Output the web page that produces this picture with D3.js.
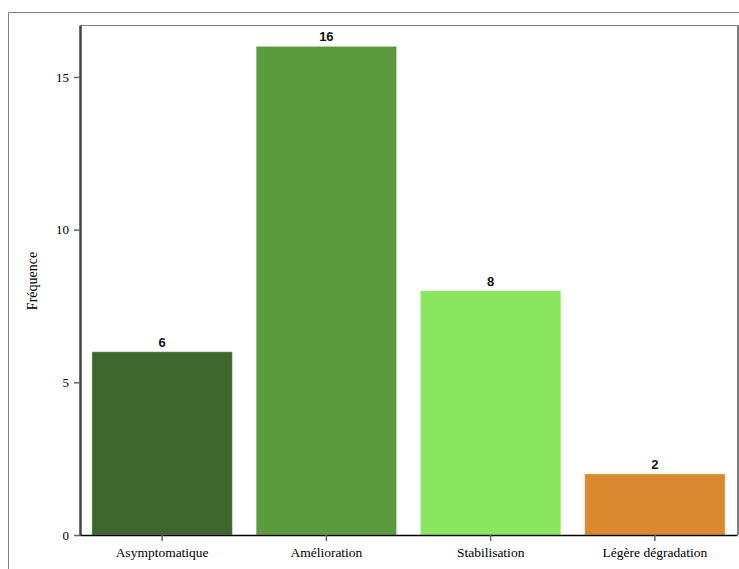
<!DOCTYPE html>
<html>
<head>
<meta charset="utf-8">
<script src="https://cdn.jsdelivr.net/npm/d3@7"></script>
<style>
  html, body { margin: 0; padding: 0; background: #fff; }
  svg { display: block; }
</style>
</head>
<body>
<svg id="chart" width="739" height="569"></svg>
<script>
const categories = ["Asymptomatique", "Amélioration", "Stabilisation", "Légère dégradation"];
const values = [6, 16, 8, 2];
const colors = ["#3d672d", "#5b9b3e", "#8ae65f", "#d98a2e"];
const yTicks = [0, 5, 10, 15];
const yTitle = "Fréquence";

const svg = d3.select("#chart");
const mLeft = 80, mRight = 737, mTop = 25, mBottom = 535;

// outer frame
svg.append("path")
  .attr("d", `M8.5,569 L8.5,12.5 L739,12.5`)
  .attr("fill", "none").attr("stroke", "#808080").attr("stroke-width", 1);

const x = d3.scaleBand().domain(categories).range([mLeft, mRight]).paddingInner(0.145).paddingOuter(0.0725);
const y = d3.scaleLinear().domain([0, 16.7]).range([mBottom, mTop]);

// plot frame top/right
svg.append("line").attr("x1", mLeft).attr("x2", mRight).attr("y1", mTop + 0.5).attr("y2", mTop + 0.5)
  .attr("stroke", "#808080").attr("stroke-width", 1);
svg.append("line").attr("x1", mRight + 1).attr("x2", mRight + 1).attr("y1", mTop).attr("y2", mBottom)
  .attr("stroke", "#808080").attr("stroke-width", 2);

// bars
svg.append("g").selectAll("rect").data(values).join("rect")
  .attr("x", (d, i) => x(categories[i]))
  .attr("y", d => y(d))
  .attr("width", x.bandwidth())
  .attr("height", d => y(0) - y(d))
  .attr("fill", (d, i) => colors[i])
  .attr("stroke", "rgba(255,255,255,0.35)")
  .attr("stroke-width", 1);

// value labels
svg.append("g").selectAll("text").data(values).join("text")
  .attr("x", (d, i) => x(categories[i]) + x.bandwidth() / 2)
  .attr("y", d => y(d) - 5)
  .attr("text-anchor", "middle")
  .attr("font-family", "'Liberation Sans', Arial, sans-serif")
  .attr("font-weight", "bold")
  .attr("font-size", 13)
  .attr("fill", "#111")
  .text(d => d);

// y axis
const yAxis = d3.axisLeft(y).tickValues(yTicks).tickSize(6).tickPadding(5).tickSizeOuter(0);
const gy = svg.append("g").attr("transform", `translate(${mLeft},0)`).call(yAxis);
gy.attr("font-family", "'Liberation Serif', 'Times New Roman', serif");
gy.select(".domain").attr("stroke", "#444").attr("stroke-width", 2.5);
gy.selectAll(".tick line").attr("stroke", "#666").attr("stroke-width", 1.5);
gy.selectAll(".tick text").attr("font-family", "'Liberation Serif', 'Times New Roman', serif")
  .attr("font-size", 13).attr("fill", "#000");

// x axis
const xAxis = d3.axisBottom(x).tickSize(6).tickSizeOuter(0).tickPadding(6);
const gx = svg.append("g").attr("transform", `translate(0,${mBottom})`).call(xAxis);
gx.attr("font-family", "'Liberation Serif', 'Times New Roman', serif");
gx.select(".domain").attr("stroke", "#000").attr("stroke-width", 1.5);
gx.selectAll(".tick line").attr("stroke", "#666").attr("stroke-width", 1.5);
gx.selectAll(".tick text").attr("font-family", "'Liberation Serif', 'Times New Roman', serif")
  .attr("font-size", 13.5).attr("fill", "#000");

// y title
svg.append("text")
  .attr("transform", `translate(37,281) rotate(-90)`)
  .attr("text-anchor", "middle")
  .attr("font-family", "'Liberation Serif', 'Times New Roman', serif")
  .attr("font-size", 14)
  .attr("fill", "#000")
  .text(yTitle);
</script>
</body>
</html>
